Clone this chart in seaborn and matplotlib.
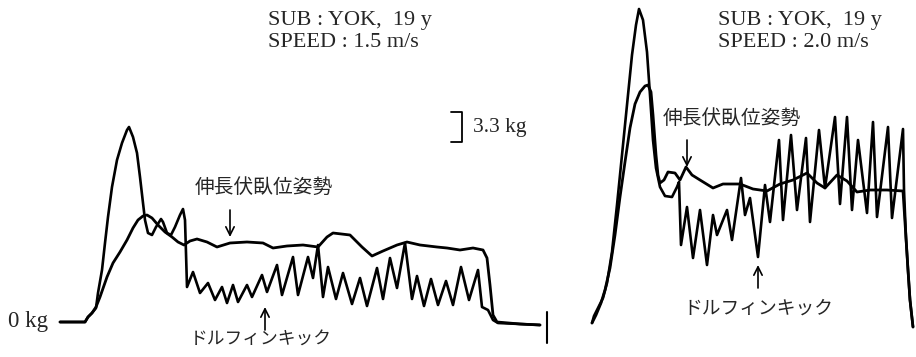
import matplotlib
matplotlib.use("Agg")
import matplotlib.pyplot as plt
import seaborn as sns
import pandas as pd

# Force traces (time in s, force in kg) for the two towing speeds.
# Left panel: SPEED 1.5 m/s
left_kick_t = [-0.25, 0.0, 0.03, 0.07, 0.11, 0.13, 0.17, 0.20, 0.23, 0.27, 0.32, 0.37, 0.42, 0.44,
               0.48, 0.52, 0.55, 0.58, 0.60, 0.63, 0.67, 0.71, 0.76, 0.78, 0.82, 0.86, 0.90, 0.95,
               0.98, 1.00, 1.01, 1.02, 1.08, 1.15, 1.23, 1.30, 1.37, 1.42, 1.48, 1.53, 1.62, 1.67,
               1.77, 1.82, 1.92, 1.97, 2.08, 2.13, 2.23, 2.28, 2.33, 2.38, 2.43, 2.51, 2.58, 2.67,
               2.75, 2.82, 2.92, 2.98, 3.05, 3.12, 3.20, 3.27, 3.32, 3.39, 3.46, 3.53, 3.61, 3.68,
               3.76, 3.84, 3.93, 3.97, 4.03, 4.08, 4.13, 4.35, 4.55]
left_kick_f = [0.0, 0.0, 0.55, 0.99, 1.54, 3.19, 5.72, 8.69, 11.55, 14.85, 17.82, 19.69, 21.12, 21.45,
               20.35, 18.59, 15.95, 13.09, 11.22, 9.79, 9.57, 10.45, 11.33, 11.0, 9.79, 9.57, 10.45, 11.77,
               12.43, 11.22, 7.59, 3.85, 5.5, 3.19, 4.29, 2.42, 3.85, 2.09, 4.07, 2.2, 4.07, 2.75,
               5.17, 3.3, 6.27, 2.97, 7.15, 2.97, 7.15, 4.84, 8.47, 2.75, 6.05, 2.53, 5.39, 1.98,
               4.84, 1.76, 5.94, 2.53, 7.04, 3.74, 8.69, 2.53, 5.06, 1.76, 4.73, 1.87, 4.51, 1.87,
               6.05, 2.42, 5.72, 1.65, 1.32, 0.22, -0.11, -0.22, -0.33]

left_glide_t = [-0.25, 0.0, 0.03, 0.07, 0.11, 0.15, 0.22, 0.28, 0.35, 0.42, 0.48, 0.53, 0.58, 0.62,
                0.67, 0.73, 0.80, 0.87, 0.93, 0.99, 1.05, 1.12, 1.22, 1.32, 1.45, 1.62, 1.78, 1.88,
                2.02, 2.18, 2.33, 2.42, 2.48, 2.65, 2.77, 2.87, 2.98, 3.12, 3.22, 3.35, 3.52, 3.62,
                3.75, 3.88, 3.98, 4.02, 4.05, 4.08, 4.12, 4.35, 4.55]
left_glide_f = [0.0, 0.0, 0.55, 0.99, 1.65, 2.75, 4.95, 6.49, 7.7, 9.02, 10.34, 11.22, 11.66, 11.77,
                11.44, 10.67, 9.9, 9.35, 8.8, 8.47, 8.91, 9.13, 8.8, 8.25, 8.69, 8.8, 8.69, 8.14,
                8.36, 8.47, 8.25, 9.35, 9.79, 9.57, 8.25, 7.26, 7.81, 8.47, 8.8, 8.47, 8.25, 8.14,
                7.92, 8.14, 7.92, 7.04, 4.07, 0.77, 0.0, -0.22, -0.33]

# Right panel: SPEED 2.0 m/s
right_kick_t = [0.0, 0.02, 0.06, 0.11, 0.15, 0.20, 0.25, 0.30, 0.35, 0.40, 0.44, 0.47, 0.51, 0.55,
                0.58, 0.61, 0.64, 0.68, 0.73, 0.80, 0.85, 0.87, 0.89, 0.95, 1.01, 1.08, 1.15, 1.21,
                1.25, 1.35, 1.40, 1.49, 1.53, 1.58, 1.66, 1.73, 1.78, 1.87, 1.91, 1.99, 2.05, 2.14,
                2.18, 2.27, 2.33, 2.43, 2.48, 2.55, 2.60, 2.66, 2.75, 2.81, 2.85, 2.96, 3.00, 3.11,
                3.12, 3.14, 3.16, 3.18, 3.21]
right_kick_f = [0.22, 0.99, 1.87, 2.97, 4.62, 8.03, 13.2, 18.7, 24.2, 29.7, 33.0, 34.76, 33.55, 30.03,
                25.3, 20.35, 17.27, 15.18, 14.19, 14.08, 15.18, 15.73, 8.8, 12.98, 7.37, 12.65, 6.6, 12.1,
                9.9, 12.65, 9.35, 16.17, 12.1, 13.97, 7.48, 15.4, 11.33, 20.35, 11.55, 20.9, 12.65, 20.57,
                11.33, 21.45, 15.07, 22.88, 13.31, 22.88, 12.65, 20.35, 12.32, 22.33, 11.88, 21.78, 11.77, 21.56,
                14.85, 9.57, 6.05, 2.75, -0.22]

right_glide_t = [0.0, 0.04, 0.09, 0.13, 0.18, 0.23, 0.28, 0.33, 0.38, 0.43, 0.48, 0.53, 0.56, 0.59,
                 0.61, 0.64, 0.66, 0.68, 0.72, 0.76, 0.83, 0.88, 0.94, 1.00, 1.08, 1.21, 1.31, 1.48,
                 1.61, 1.75, 1.88, 2.01, 2.15, 2.25, 2.33, 2.45, 2.55, 2.65, 2.78, 2.95, 3.11, 3.14,
                 3.16, 3.18, 3.21]
right_glide_f = [0.22, 1.1, 2.42, 3.85, 6.27, 9.9, 14.08, 17.93, 21.67, 24.31, 25.63, 26.29, 26.4, 25.63,
                 23.1, 18.7, 16.5, 15.62, 15.95, 16.83, 16.72, 15.95, 17.38, 16.5, 15.95, 15.07, 15.51, 15.51,
                 14.96, 14.74, 15.51, 15.95, 16.72, 15.62, 15.07, 16.5, 15.84, 14.63, 14.85, 14.85, 14.74, 9.57,
                 6.05, 2.75, -0.22]

scale_bar_kg = 3.3
panel_titles = [("SUB : YOK,  19 y", "SPEED : 1.5 m/s"), ("SUB : YOK,  19 y", "SPEED : 2.0 m/s")]
label_glide = "伸長伏臥位姿勢"
label_kick = "ドルフィンキック"

sns.set_theme(style="white")
SERIF = ["Liberation Serif", "DejaVu Serif"]
CJK = ["Noto Sans CJK JP", "DejaVu Sans"]

W, H = 916, 357
fig = plt.figure(figsize=(W / 100, H / 100), dpi=100)
fig.patch.set_facecolor("white")

ax_l = fig.add_axes([0, 0, 560 / W, 1])
ax_r = fig.add_axes([570 / W, 0, 346 / W, 1])
ax_l.set_xlim(-0.85, 4.75)
ax_l.set_ylim(-3.85, 35.42)
ax_r.set_xlim(-0.22, 3.24)
ax_r.set_ylim(-3.52, 35.75)


def trace(ax, t, f, lw):
    df = pd.DataFrame({"t": t, "f": f})
    sns.lineplot(data=df, x="t", y="f", sort=False, estimator=None, ax=ax,
                 color="black", linewidth=lw, legend=False)
    ax.lines[-1].set_solid_joinstyle("round")
    ax.lines[-1].set_solid_capstyle("round")


trace(ax_l, left_glide_t, left_glide_f, 2.0)
trace(ax_l, left_kick_t, left_kick_f, 1.9)
trace(ax_r, right_glide_t, right_glide_f, 2.0)
trace(ax_r, right_kick_t, right_kick_f, 1.9)

for ax in (ax_l, ax_r):
    ax.set_axis_off()

arrow = dict(arrowstyle="->,head_length=0.5,head_width=0.25", color="black", lw=1.2,
             shrinkA=0, shrinkB=0)

TS = 16  # serif annotation size

# left panel annotations
ax_l.text(1.83, 32.67, panel_titles[0][0], family=SERIF, fontsize=TS, va="baseline")
ax_l.text(1.83, 30.25, panel_titles[0][1], family=SERIF, fontsize=TS, va="baseline")
ax_l.text(-0.37, 0.0, "0 kg", family=SERIF, fontsize=16.5, ha="right", va="center")
ax_l.text(3.88, 21.45, "3.3 kg", family=SERIF, fontsize=15.5, va="center")
bar_lo = 19.8
ax_l.plot([3.66, 3.77, 3.77, 3.66], [bar_lo, bar_lo, bar_lo + scale_bar_kg, bar_lo + scale_bar_kg],
          color="black", lw=1.3)
ax_l.plot([4.62, 4.62], [1.1, -2.31], color="black", lw=1.5)
ax_l.text(1.10, 14.85, label_glide, family=CJK, fontsize=14.2, va="center")
ax_l.annotate("", xy=(1.45, 9.35), xytext=(1.45, 12.32), arrowprops=arrow)
ax_l.text(1.05, -1.98, label_kick, family=CJK, fontsize=12.8, va="center")
ax_l.annotate("", xy=(1.80, 1.65), xytext=(1.80, -0.88), arrowprops=arrow)

# right panel annotations
ax_r.text(1.26, 33.0, panel_titles[1][0], family=SERIF, fontsize=TS, va="baseline")
ax_r.text(1.26, 30.58, panel_titles[1][1], family=SERIF, fontsize=TS, va="baseline")
ax_r.text(0.71, 22.77, label_glide, family=CJK, fontsize=14.2, va="center")
ax_r.annotate("", xy=(0.95, 17.38), xytext=(0.95, 20.35), arrowprops=arrow)
ax_r.text(0.91, 1.87, label_kick, family=CJK, fontsize=13.5, va="center")
ax_r.annotate("", xy=(1.66, 6.6), xytext=(1.66, 4.07), arrowprops=arrow)

fig.savefig("out.png", dpi=100, facecolor="white")
